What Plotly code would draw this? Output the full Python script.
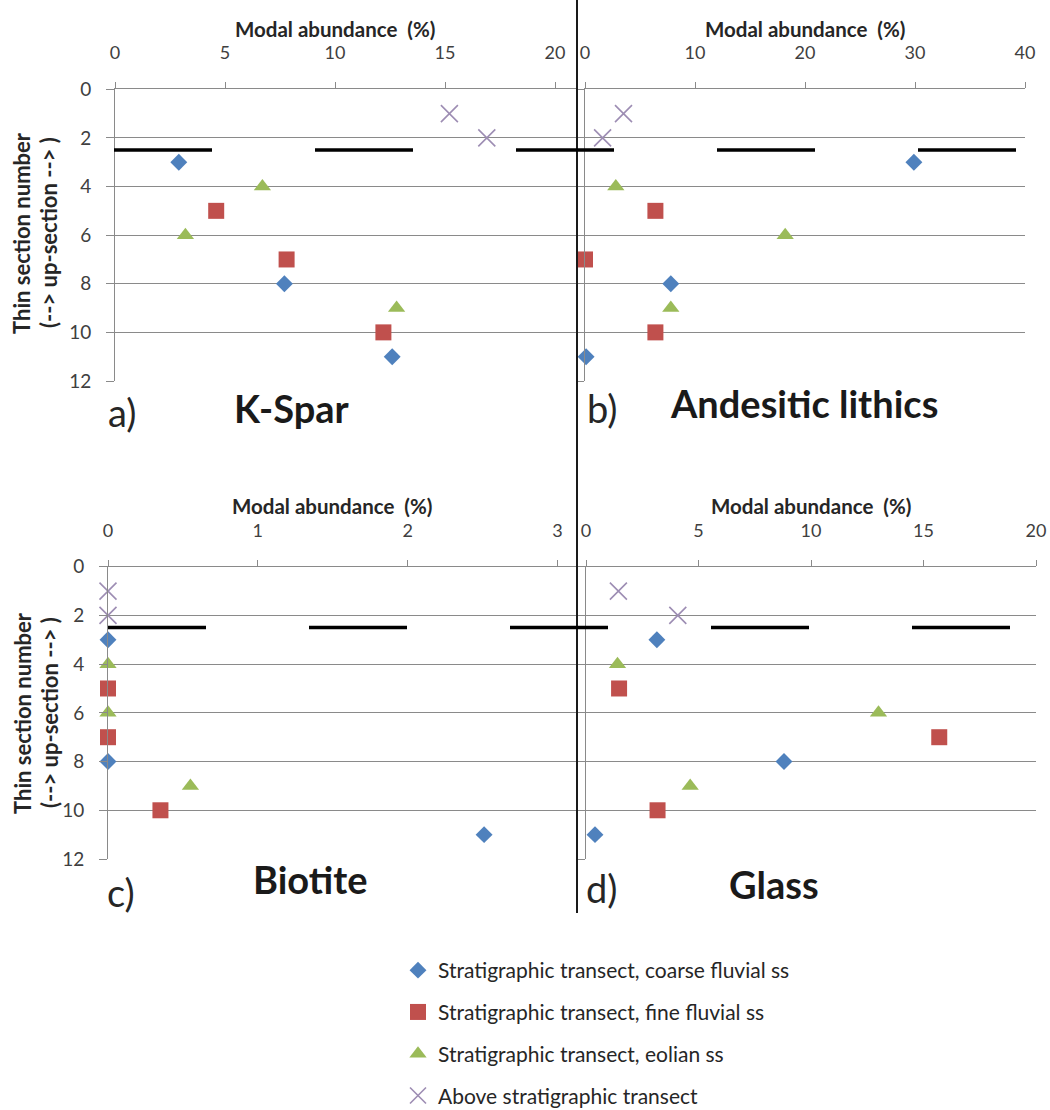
import plotly.graph_objects as go

W, H = 1050, 1110

# ---------------- data ----------------
sections_coarse = [3, 8, 11]
sections_fine = [5, 7, 10]
sections_eolian = [4, 6, 9]
sections_above = [1, 2]

series_names = [
    "Stratigraphic transect, coarse fluvial ss",
    "Stratigraphic transect, fine fluvial ss",
    "Stratigraphic transect, eolian ss",
    "Above stratigraphic transect",
]

kspar_coarse = [2.9, 7.7, 12.6]
kspar_fine = [4.6, 7.8, 12.2]
kspar_eolian = [6.7, 3.2, 12.8]
kspar_above = [15.2, 16.9]

andes_coarse = [29.9, 7.8, 0.1]
andes_fine = [6.4, 0.0, 6.4]
andes_eolian = [2.8, 18.2, 7.8]
andes_above = [3.5, 1.6]

biot_coarse = [0.0, 0.0, 2.51]
biot_fine = [0.0, 0.0, 0.35]
biot_eolian = [0.0, 0.0, 0.55]
biot_above = [0.0, 0.0]

glass_coarse = [3.15, 8.8, 0.4]
glass_fine = [1.47, 15.7, 3.18]
glass_eolian = [1.4, 13.0, 4.63]
glass_above = [1.44, 4.08]

panel_letters = ["a)", "b)", "c)", "d)"]
panel_titles = ["K-Spar", "Andesitic lithics", "Biotite", "Glass"]
x_ticks_a = [0, 5, 10, 15, 20]
x_ticks_b = [0, 10, 20, 30, 40]
x_ticks_c = [0, 1, 2, 3]
x_ticks_d = [0, 5, 10, 15, 20]
y_ticks = [0, 2, 4, 6, 8, 10, 12]
boundary_section = 2.5

# ---------------- style ----------------
FONT = "Lato"
GRID = "#8a8a8a"
TXT = "#262626"
TICK_TXT = "#404040"
colors = ["#4F81BD", "#C0504D", "#9BBB59", "#9D8DB3"]
symbols = ["diamond", "square", "triangle-up", "x-thin"]
sizes = [13, 16, 15, 17]


def px(x):
    return x / W


def py(y):
    return 1 - y / H


fig = go.Figure()

panels = [
    ("x", "y", [kspar_coarse, kspar_fine, kspar_eolian, kspar_above]),
    ("x2", "y2", [andes_coarse, andes_fine, andes_eolian, andes_above]),
    ("x3", "y3", [biot_coarse, biot_fine, biot_eolian, biot_above]),
    ("x4", "y4", [glass_coarse, glass_fine, glass_eolian, glass_above]),
]
sections = [sections_coarse, sections_fine, sections_eolian, sections_above]

for pi, (xa, ya, vals) in enumerate(panels):
    for si in range(4):
        if symbols[si] == "x-thin":
            marker = dict(symbol="x-thin", size=sizes[si], color=colors[si],
                          line=dict(color=colors[si], width=1.6))
        else:
            marker = dict(symbol=symbols[si], size=sizes[si], color=colors[si],
                          line=dict(width=0))
        fig.add_trace(go.Scatter(
            x=vals[si], y=sections[si], mode="markers", xaxis=xa, yaxis=ya,
            name=series_names[si], legendgroup=f"g{si}",
            showlegend=(pi == 0), marker=marker, cliponaxis=False,
        ))

# axis geometry (pixels)
geo = {
    "a": dict(x0=115, x1=577, yt=89.3, yb=381.0, rng=[0, 21], ticks=x_ticks_a),
    "b": dict(x0=585, x1=1025, yt=89.3, yb=381.0, rng=[0, 40], ticks=x_ticks_b),
    "c": dict(x0=108, x1=577, yt=566.7, yb=859.0, rng=[0, 3.13], ticks=x_ticks_c),
    "d": dict(x0=586, x1=1036, yt=566.7, yb=859.0, rng=[0, 20], ticks=x_ticks_d),
}
names = [("xaxis", "yaxis", "y", "x"), ("xaxis2", "yaxis2", "y2", "x2"),
         ("xaxis3", "yaxis3", "y3", "x3"), ("xaxis4", "yaxis4", "y4", "x4")]

layout = dict(
    width=W, height=H, margin=dict(l=0, r=0, t=0, b=0, autoexpand=False),
    paper_bgcolor="white", plot_bgcolor="white",
    font=dict(family=FONT, color=TXT),
    legend=dict(x=px(398), y=py(950), xanchor="left", yanchor="top",
                font=dict(size=21, color=TXT, family=FONT),
                traceorder="grouped", tracegroupgap=11.5,
                itemwidth=30, bgcolor="rgba(0,0,0,0)"),
)
for key, (xn, yn, yid, xid) in zip("abcd", names):
    g = geo[key]
    layout[xn] = dict(
        domain=[px(g["x0"]), px(g["x1"])], range=g["rng"], side="top",
        anchor=yid, tickvals=g["ticks"], showgrid=False, zeroline=False,
        showline=True, linecolor=GRID, linewidth=1, ticks="outside",
        ticklen=6, tickcolor=GRID, tickfont=dict(size=18, color=TICK_TXT),
        ticklabelstandoff=16, automargin=False,
    )
    layout[yn] = dict(
        domain=[py(g["yb"]), py(g["yt"])], range=[12, 0], anchor=xid,
        tickvals=y_ticks, showgrid=True, gridcolor=GRID, gridwidth=1,
        zeroline=False, showline=True, linecolor=GRID, linewidth=1,
        ticks="outside", ticklen=8, tickcolor=GRID,
        showticklabels=key in ("a", "c"),
        tickfont=dict(size=19, color=TICK_TXT), ticklabelstandoff=11,
        automargin=False,
    )
fig.update_layout(**layout)

# separator line between columns
fig.add_shape(type="line", xref="paper", yref="paper",
              x0=px(577), x1=px(577), y0=py(0), y1=py(913),
              line=dict(color="#1a1a1a", width=2))

# dashed boundary (section 2.5) across each row
fig.add_shape(type="line", xref="paper", yref="y", x0=px(114), x1=px(1023),
              y0=boundary_section, y1=boundary_section,
              line=dict(color="black", width=3.5, dash="98px,103px"))
fig.add_shape(type="line", xref="paper", yref="y3", x0=px(108), x1=px(1017),
              y0=boundary_section, y1=boundary_section,
              line=dict(color="black", width=3.5, dash="98px,103px"))

# axis titles
for cx, cy in [(335, 29), (805, 29), (332, 506), (811, 506)]:
    fig.add_annotation(xref="paper", yref="paper", x=px(cx), y=py(cy),
                       text="<b>Modal abundance  (%)</b>", showarrow=False,
                       font=dict(size=20.5, color=TXT), xanchor="center", yanchor="middle",
                       borderpad=0)
for cy in [233, 713]:
    fig.add_annotation(xref="paper", yref="paper", x=px(22), y=py(cy),
                       text="<b>Thin section number</b>", showarrow=False, textangle=-90,
                       font=dict(size=22, color=TXT), xanchor="center", yanchor="middle")
    fig.add_annotation(xref="paper", yref="paper", x=px(49), y=py(cy),
                       text="<b>(--> up-section --> )</b>", showarrow=False, textangle=-90,
                       font=dict(size=22, color=TXT), xanchor="center", yanchor="middle")

# panel letters and titles
letter_pos = [(122, 412), (602, 408), (121, 892), (601, 888)]
title_pos = [(292, 408), (804, 403), (310, 879), (774, 884)]
for i in range(4):
    fig.add_annotation(xref="paper", yref="paper", x=px(letter_pos[i][0]), y=py(letter_pos[i][1]),
                       text=panel_letters[i], showarrow=False,
                       font=dict(size=38, color=TXT), xanchor="center", yanchor="middle")
    fig.add_annotation(xref="paper", yref="paper", x=px(title_pos[i][0]), y=py(title_pos[i][1]),
                       text=f"<b>{panel_titles[i]}</b>", showarrow=False,
                       font=dict(size=38, color="#1a1a1a"), xanchor="center", yanchor="middle")

fig.write_html("out.html")
